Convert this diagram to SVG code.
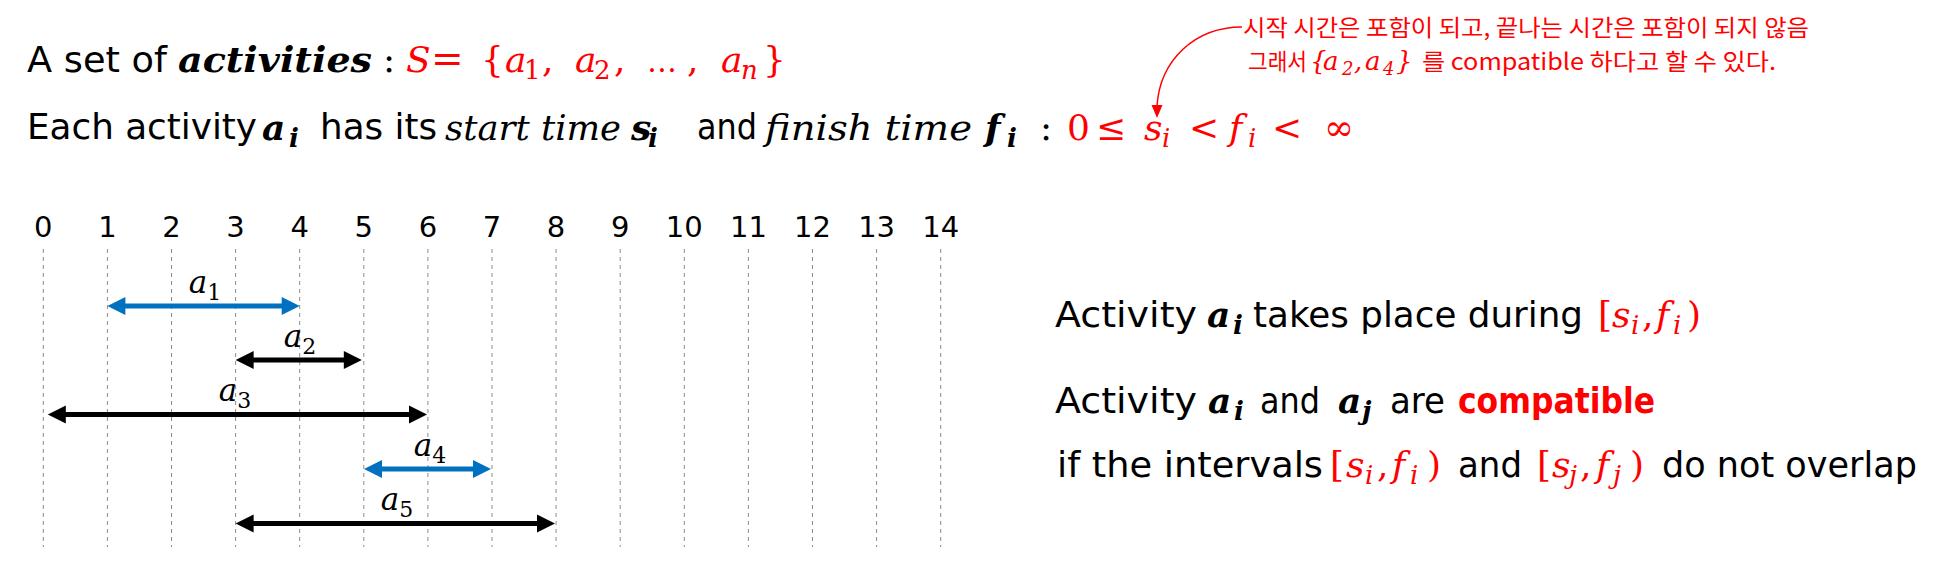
<svg xmlns="http://www.w3.org/2000/svg" width="1951" height="574" viewBox="0 0 1951 574">
<style>
.t{font-family:"DejaVu Sans",sans-serif;font-size:35px;fill:#000}
.m{font-family:"DejaVu Serif",serif;font-size:36px;font-style:italic;fill:#000}
.mb{font-family:"DejaVu Serif",serif;font-size:36px;font-style:italic;font-weight:bold;fill:#000}
.up{font-style:normal}
.s{font-size:26px}
.red{fill:#FF0000}
.kr{font-family:"Noto Sans CJK KR",sans-serif;font-size:23px;fill:#FF0000}
.km{font-family:"DejaVu Serif",serif;font-size:26px;font-style:italic;fill:#FF0000}
.ks{font-size:18px}
.num{font-family:"DejaVu Sans",sans-serif;font-size:29px;text-anchor:middle;fill:#000}
.lbl{font-family:"DejaVu Serif",serif;font-size:31px;font-style:italic;text-anchor:middle;fill:#000}
.grid line{stroke:#8c8c8c;stroke-width:1;stroke-dasharray:4 4}
.arr{stroke-width:5;fill:none}
.blue{stroke:#0070C0}
.blk{stroke:#000}
</style>
<defs>
<marker id="hb" viewBox="0 0 18 18" refX="8" refY="9" markerWidth="18" markerHeight="18" markerUnits="userSpaceOnUse" orient="auto-start-reverse" overflow="visible"><path d="M0,0 L18,9 L0,18 Z" fill="#0070C0"/></marker>
<marker id="hk" viewBox="0 0 18 18" refX="8" refY="9" markerWidth="18" markerHeight="18" markerUnits="userSpaceOnUse" orient="auto-start-reverse" overflow="visible"><path d="M0,0 L18,9 L0,18 Z" fill="#000"/></marker>
</defs>
<rect width="1951" height="574" fill="#fff"/>

<g id="line1">
<text class="t" x="27" y="72" textLength="140" lengthAdjust="spacingAndGlyphs">A set of</text>
<text class="mb" x="178" y="72" textLength="194" lengthAdjust="spacingAndGlyphs">activities</text>
<text class="m up" x="383" y="72">:</text>
<text class="m red" x="406" y="72">S<tspan class="up" x="431" font-size="39">=</tspan><tspan class="up" x="481">{</tspan><tspan x="505">a</tspan><tspan class="up s" x="524" y="79">1</tspan><tspan class="up" x="542" y="72">,</tspan><tspan x="575">a</tspan><tspan class="up s" x="594" y="79">2</tspan><tspan class="up" x="614" y="72">,</tspan><tspan class="up" x="647" font-size="30">…</tspan><tspan class="up" x="687">,</tspan><tspan x="721">a</tspan><tspan class="s" x="741" y="79">n</tspan><tspan class="up" x="763" y="72">}</tspan></text>
</g>

<g id="line2">
<text class="t" x="27" y="139" textLength="230" lengthAdjust="spacingAndGlyphs">Each activity</text>
<text class="mb" x="262" y="140">a</text><text class="mb s" x="289" y="147" font-size="28">i</text>
<text class="t" x="320" y="139" textLength="117" lengthAdjust="spacingAndGlyphs">has its</text>
<text class="m" x="445" y="140" textLength="176" lengthAdjust="spacingAndGlyphs">start time</text>
<text class="mb" x="631" y="140">s</text><text class="mb s" x="648" y="147">i</text>
<text class="t" x="697" y="139" textLength="60" lengthAdjust="spacingAndGlyphs">and</text>
<text class="m" x="765" y="140" textLength="207" lengthAdjust="spacingAndGlyphs">finish time</text>
<text class="mb" x="985" y="140">f</text><text class="mb s" x="1007" y="147">i</text>
<text class="m up" x="1040" y="140">:</text>
<text class="m up red" x="1067" y="140">0</text>
<text class="m up red" x="1096" y="140">≤</text>
<text class="m red" x="1144" y="140">s</text><text class="m red s" x="1162" y="147">i</text>
<text class="m up red" x="1189" y="140">&lt;</text>
<text class="m red" x="1229" y="140">f</text><text class="m red s" x="1248" y="147">i</text>
<text class="m up red" x="1272" y="140">&lt;</text>
<text class="m up red" x="1324" y="140">∞</text>
</g>

<g id="note">
<text class="kr" x="1243" y="36" textLength="566" lengthAdjust="spacingAndGlyphs">시작 시간은 포함이 되고, 끝나는 시간은 포함이 되지 않음</text>
<text class="kr" x="1248" y="70" textLength="59" lengthAdjust="spacingAndGlyphs">그래서</text>
<text class="km up" x="1310" y="70">{</text>
<text class="km" x="1323" y="70">a</text><text class="km up ks" x="1342" y="75">2</text>
<text class="km up" x="1354" y="70">,</text>
<text class="km" x="1365" y="70">a</text><text class="km up ks" x="1383" y="75">4</text>
<text class="km up" x="1396" y="70">}</text>
<text class="kr" x="1422" y="70" textLength="354" lengthAdjust="spacingAndGlyphs">를 compatible 하다고 할 수 있다.</text>
</g>

<g id="axis">
<text class="num" x="43.3" y="237">0</text>
<text class="num" x="107.4" y="237">1</text>
<text class="num" x="171.5" y="237">2</text>
<text class="num" x="235.6" y="237">3</text>
<text class="num" x="299.7" y="237">4</text>
<text class="num" x="363.8" y="237">5</text>
<text class="num" x="427.9" y="237">6</text>
<text class="num" x="492" y="237">7</text>
<text class="num" x="556.1" y="237">8</text>
<text class="num" x="620.2" y="237">9</text>
<text class="num" x="684.3" y="237">10</text>
<text class="num" x="748.4" y="237">11</text>
<text class="num" x="812.5" y="237">12</text>
<text class="num" x="876.6" y="237">13</text>
<text class="num" x="940.7" y="237">14</text>
</g>

<g id="grid" class="grid">
<line x1="43.3" y1="249" x2="43.3" y2="547"/>
<line x1="107.4" y1="249" x2="107.4" y2="547"/>
<line x1="171.5" y1="249" x2="171.5" y2="547"/>
<line x1="235.6" y1="249" x2="235.6" y2="547"/>
<line x1="299.7" y1="249" x2="299.7" y2="547"/>
<line x1="363.8" y1="249" x2="363.8" y2="547"/>
<line x1="427.9" y1="249" x2="427.9" y2="547"/>
<line x1="492" y1="249" x2="492" y2="547"/>
<line x1="556.1" y1="249" x2="556.1" y2="547"/>
<line x1="620.2" y1="249" x2="620.2" y2="547"/>
<line x1="684.3" y1="249" x2="684.3" y2="547"/>
<line x1="748.4" y1="249" x2="748.4" y2="547"/>
<line x1="812.5" y1="249" x2="812.5" y2="547"/>
<line x1="876.6" y1="249" x2="876.6" y2="547"/>
<line x1="940.7" y1="249" x2="940.7" y2="547"/>
</g>

<g id="labels">
<text class="lbl" x="205" y="293">a<tspan class="up" font-size="22" dy="7">1</tspan></text>
<text class="lbl" x="300" y="347">a<tspan class="up" font-size="22" dy="7">2</tspan></text>
<text class="lbl" x="235" y="401">a<tspan class="up" font-size="22" dy="7">3</tspan></text>
<text class="lbl" x="430" y="456">a<tspan class="up" font-size="22" dy="7">4</tspan></text>
<text class="lbl" x="397" y="510">a<tspan class="up" font-size="22" dy="7">5</tspan></text>
</g>

<g id="connectors">
<line class="arr blue" x1="117.4" y1="306" x2="289.7" y2="306" marker-start="url(#hb)" marker-end="url(#hb)"/>
<line class="arr blk" x1="245.6" y1="360" x2="351.8" y2="360" marker-start="url(#hk)" marker-end="url(#hk)"/>
<line class="arr blk" x1="57.8" y1="414.5" x2="417" y2="414.5" marker-start="url(#hk)" marker-end="url(#hk)"/>
<line class="arr blue" x1="374" y1="469" x2="481" y2="469" marker-start="url(#hb)" marker-end="url(#hb)"/>
<line class="arr blk" x1="245.6" y1="523.5" x2="545" y2="523.5" marker-start="url(#hk)" marker-end="url(#hk)"/>
<path d="M1242,27 C1195,27 1160,60 1157,106" fill="none" stroke="#FF0000" stroke-width="1.5"/>
<polygon points="1151.5,105 1162.5,105 1157,118" fill="#FF0000"/>
</g>

<g id="right">
<text class="t" x="1055" y="327" textLength="142" lengthAdjust="spacingAndGlyphs">Activity</text>
<text class="mb" x="1207" y="327">a</text><text class="mb s" x="1233" y="334" font-size="28">i</text>
<text class="t" x="1253" y="327" textLength="330" lengthAdjust="spacingAndGlyphs">takes place during</text>
<text class="m up red" x="1598" y="327">[</text>
<text class="m red" x="1612" y="327">s</text><text class="m red s" x="1631" y="334">i</text>
<text class="m up red" x="1642" y="327">,</text>
<text class="m red" x="1656" y="327">f</text><text class="m red s" x="1673" y="334">i</text>
<text class="m up red" x="1687" y="327">)</text>

<text class="t" x="1055" y="413" textLength="142" lengthAdjust="spacingAndGlyphs">Activity</text>
<text class="mb" x="1208" y="413">a</text><text class="mb s" x="1234" y="420" font-size="28">i</text>
<text class="t" x="1260" y="413" textLength="60" lengthAdjust="spacingAndGlyphs">and</text>
<text class="mb" x="1338" y="413">a</text><text class="mb s" x="1362" y="420" font-size="28">j</text>
<text class="t" x="1390" y="413" textLength="55" lengthAdjust="spacingAndGlyphs">are</text>
<text class="t red" x="1458" y="413" font-weight="bold" textLength="197" lengthAdjust="spacingAndGlyphs">compatible</text>

<text class="t" x="1057" y="477" textLength="266" lengthAdjust="spacingAndGlyphs">if the intervals</text>
<text class="m up red" x="1330" y="477">[</text>
<text class="m red" x="1346" y="477">s</text><text class="m red s" x="1365" y="484">i</text>
<text class="m up red" x="1377" y="477">,</text>
<text class="m red" x="1392" y="477">f</text><text class="m red s" x="1410" y="484">i</text>
<text class="m up red" x="1427" y="477">)</text>
<text class="t" x="1458" y="477" textLength="64" lengthAdjust="spacingAndGlyphs">and</text>
<text class="m up red" x="1537" y="477">[</text>
<text class="m red" x="1552" y="477">s</text><text class="m red s" x="1569" y="484">j</text>
<text class="m up red" x="1580" y="477">,</text>
<text class="m red" x="1596" y="477">f</text><text class="m red s" x="1613" y="484">j</text>
<text class="m up red" x="1630" y="477">)</text>
<text class="t" x="1662" y="477" textLength="255" lengthAdjust="spacingAndGlyphs">do not overlap</text>
</g>
</svg>
